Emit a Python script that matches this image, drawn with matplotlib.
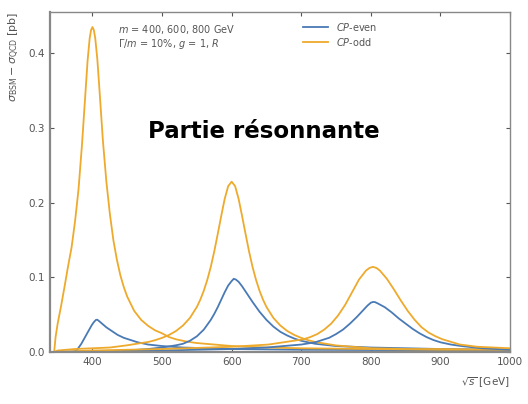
import matplotlib
matplotlib.use("Agg")
import matplotlib.pyplot as plt

# resonant part of the cross section, one curve per mass point
x_odd_400 = [345, 347, 350, 355, 360, 365, 370, 375, 380, 385, 390, 393, 396, 398, 400, 402, 404, 407,
             410, 415, 420, 425, 430, 435, 440, 445, 450, 460, 470, 480, 490, 500, 510, 520, 535,
             550, 575, 600, 650, 700, 800, 900, 1000]
y_odd_400 = [0.0, 0.02, 0.038, 0.062, 0.088, 0.115, 0.140, 0.175, 0.218, 0.278, 0.348, 0.390, 0.420,
             0.431, 0.435, 0.431, 0.420, 0.392, 0.352, 0.283, 0.228, 0.185, 0.150, 0.124, 0.103,
             0.087, 0.074, 0.055, 0.043, 0.035, 0.029, 0.025, 0.020, 0.017, 0.014, 0.012, 0.010,
             0.008, 0.006, 0.005, 0.004, 0.003, 0.003]

x_odd_600 = [345, 350, 375, 400, 425, 450, 470, 480, 490, 500, 510, 520, 530, 540, 550, 555, 560,
             565, 570, 575, 580, 585, 590, 595, 600, 605, 610, 615, 620, 625, 630, 635, 640, 645,
             650, 660, 670, 680, 690, 700, 710, 720, 750, 800, 850, 900, 1000]
y_odd_600 = [0.0, 0.002, 0.004, 0.005, 0.006, 0.009, 0.012, 0.0134, 0.0158, 0.0189, 0.0228, 0.0281,
             0.0354, 0.0456, 0.0603, 0.0702, 0.0821, 0.0966, 0.114, 0.1346, 0.158, 0.182, 0.205,
             0.222, 0.228, 0.222, 0.205, 0.182, 0.158, 0.1346, 0.114, 0.0966, 0.0821, 0.0702,
             0.0603, 0.0456, 0.0354, 0.0281, 0.0228, 0.0189, 0.0158, 0.0134, 0.0088, 0.005, 0.004,
             0.004, 0.003]

x_odd_800 = [345, 400, 500, 600, 653, 703, 713, 723, 733, 743, 753, 763, 773, 783, 793, 798, 803,
             808, 813, 823, 833, 843, 853, 863, 873, 883, 893, 903, 928, 953, 1000]
y_odd_800 = [0.0, 0.002, 0.004, 0.007, 0.010, 0.017, 0.020, 0.024, 0.030, 0.038, 0.049, 0.063, 0.080,
             0.097, 0.109, 0.1125, 0.114, 0.1125, 0.109, 0.098, 0.084, 0.069, 0.055, 0.043, 0.033,
             0.026, 0.021, 0.017, 0.010, 0.007, 0.005]

x_even_400 = [345, 372, 375, 378, 381, 384, 387, 390, 393, 396, 399, 402, 405, 407, 410, 415, 420,
              428, 436, 445, 455, 465, 480, 500, 530, 600, 700, 1000]
y_even_400 = [0.0, 0.0, 0.001, 0.003, 0.007, 0.011, 0.016, 0.021, 0.026, 0.031, 0.036, 0.040, 0.043,
              0.0432, 0.041, 0.037, 0.033, 0.028, 0.023, 0.019, 0.016, 0.013, 0.010, 0.008, 0.006,
              0.004, 0.003, 0.002]

x_even_600 = [345, 450, 480, 500, 520, 530, 540, 550, 560, 570, 575, 580, 585, 590, 595, 600, 603,
              606, 610, 615, 620, 625, 630, 640, 650, 660, 670, 680, 690, 700, 720, 750, 800, 900,
              1000]
y_even_600 = [0.0, 0.002, 0.004, 0.006, 0.009, 0.011, 0.015, 0.021, 0.030, 0.043, 0.051, 0.060, 0.070,
              0.080, 0.089, 0.095, 0.098, 0.097, 0.094, 0.088, 0.081, 0.074, 0.067, 0.054, 0.043,
              0.034, 0.027, 0.022, 0.018, 0.015, 0.011, 0.008, 0.006, 0.004, 0.003]

x_even_800 = [345, 500, 600, 650, 700, 720, 740, 750, 760, 770, 780, 790, 795, 800, 803, 806, 810,
              820, 830, 840, 850, 860, 870, 880, 890, 900, 915, 930, 960, 1000]
y_even_800 = [0.0, 0.002, 0.004, 0.006, 0.010, 0.013, 0.019, 0.024, 0.030, 0.038, 0.047, 0.057, 0.062,
              0.066, 0.067, 0.0668, 0.065, 0.060, 0.053, 0.045, 0.038, 0.031, 0.025, 0.020, 0.016,
              0.013, 0.010, 0.008, 0.005, 0.003]

x_ticks = [400, 500, 600, 700, 800, 900, 1000]
y_ticks = [0.0, 0.1, 0.2, 0.3, 0.4]

c_even = "#4a7ab5"
c_odd = "#eeaa2c"
grey = "#555555"

fig = plt.figure(figsize=(5.28, 4.04), dpi=100)
ax = fig.add_axes([0.0947, 0.1287, 0.8713, 0.8413])

lw = 1.3
ax.plot(x_even_400, y_even_400, color=c_even, lw=lw, label="$CP$-even")
ax.plot(x_odd_400, y_odd_400, color=c_odd, lw=lw, label="$CP$-odd")
ax.plot(x_even_600, y_even_600, color=c_even, lw=lw)
ax.plot(x_odd_600, y_odd_600, color=c_odd, lw=lw)
ax.plot(x_even_800, y_even_800, color=c_even, lw=lw)
ax.plot(x_odd_800, y_odd_800, color=c_odd, lw=lw)

ax.set_xlim(339, 1000)
ax.set_ylim(0, 0.455)
ax.set_xticks(x_ticks)
ax.set_yticks(y_ticks)
ax.tick_params(direction="in", top=True, right=True, labelsize=7.5, colors=grey,
               length=3, width=0.8)
for s in ax.spines.values():
    s.set_color("#888888")
    s.set_linewidth(1.0)
ax.spines["bottom"].set_linewidth(1.6)
ax.spines["left"].set_linewidth(1.6)

ax.set_xlabel(r"$\sqrt{s}$ [GeV]", fontsize=7.5, color=grey, loc="right", labelpad=6)
ax.set_ylabel(r"$\sigma_{\rm BSM} - \sigma_{\rm QCD}$ [pb]", fontsize=8, color=grey,
              loc="top", labelpad=5)

ax.text(0.148, 0.968, "$m$ = 400, 600, 800 GeV\n$\\Gamma/m$ = 10%, $g$ = 1, $R$",
        transform=ax.transAxes, fontsize=7, color=grey, va="top", linespacing=1.1)

leg = ax.legend(loc="upper left", bbox_to_anchor=(0.53, 1.0), frameon=False, fontsize=7,
                handlelength=2.6, handletextpad=0.8, labelspacing=0.3)
for t in leg.get_texts():
    t.set_color(grey)

fig.text(0.5, 0.675, "Partie résonnante", fontsize=16.5, fontweight="bold",
         ha="center", va="center", color="black")

fig.savefig("out.png", dpi=100)
